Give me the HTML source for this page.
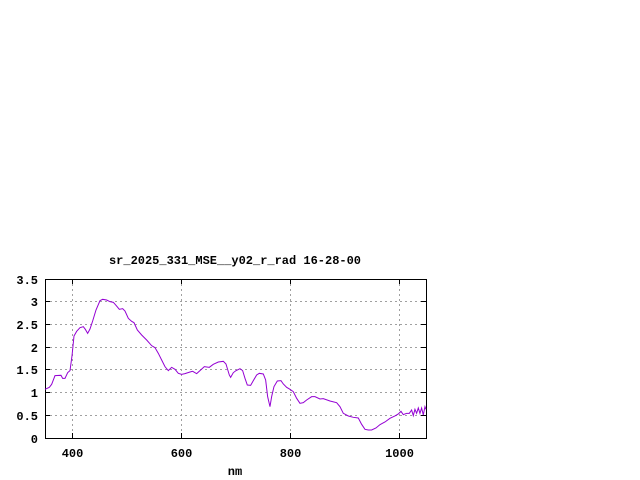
<!DOCTYPE html>
<html><head><style>body{margin:0;background:#fff}svg{display:block}</style></head><body>
<svg width="640" height="480" xmlns="http://www.w3.org/2000/svg" font-family="'Liberation Mono',monospace" font-size="12" font-weight="bold">
<rect width="640" height="480" fill="#fff"/>
<g stroke="#a0a0a0" stroke-dasharray="2,3" stroke-width="1">
<line x1="45" y1="415.5" x2="426" y2="415.5"/><line x1="45" y1="392.5" x2="426" y2="392.5"/><line x1="45" y1="369.5" x2="426" y2="369.5"/><line x1="45" y1="347.5" x2="426" y2="347.5"/><line x1="45" y1="324.5" x2="426" y2="324.5"/><line x1="45" y1="301.5" x2="426" y2="301.5"/>
<line x1="72.5" y1="279" x2="72.5" y2="438"/><line x1="181.5" y1="279" x2="181.5" y2="438"/><line x1="290.5" y1="279" x2="290.5" y2="438"/><line x1="399.5" y1="279" x2="399.5" y2="438"/>
</g>
<rect x="45.5" y="279.5" width="381" height="159" fill="none" stroke="#000"/>
<g stroke="#000">
<path d="M45 415.5h5M45 392.5h5M45 369.5h5M45 347.5h5M45 324.5h5M45 301.5h5M426 415.5h-5M426 392.5h-5M426 369.5h-5M426 347.5h-5M426 324.5h-5M426 301.5h-5M72.5 438v-5M181.5 438v-5M290.5 438v-5M399.5 438v-5M72.5 279v5M181.5 279v5M290.5 279v5M399.5 279v5"/>
</g>
<g text-anchor="end">
<text x="38" y="443">0</text><text x="38" y="420">0.5</text><text x="38" y="397">1</text><text x="38" y="374">1.5</text><text x="38" y="352">2</text><text x="38" y="329">2.5</text><text x="38" y="306">3</text><text x="38" y="284">3.5</text>
</g>
<g text-anchor="middle">
<text x="72.5" y="457">400</text><text x="181.5" y="457">600</text><text x="290.5" y="457">800</text><text x="399.5" y="457">1000</text>
<text x="235" y="475">nm</text>
<text x="235" y="264">sr_2025_331_MSE__y02_r_rad 16-28-00</text>
</g>
<g transform="translate(0,250) scale(0.3333)">
<polyline fill="none" stroke="#9400d3" stroke-width="3" points="135,418 148,412 155,403 165,377 183,376 188,385 195,385 203,368 210,362 216,318 222,258 230,244 240,233 250,230 256,238 263,250 270,237 278,213 288,180 300,152 308,148 320,150 330,155 340,157 348,166 358,178 368,176 375,183 385,205 395,214 402,218 412,240 425,255 440,270 455,287 465,293 475,310 485,330 495,350 505,362 515,352 525,358 535,370 545,373 555,371 570,366 578,364 590,371 600,362 613,350 628,352 640,343 655,336 670,334 678,342 688,375 692,382 700,368 708,362 720,356 728,362 735,385 742,405 752,406 760,392 770,375 778,370 790,372 797,390 803,440 810,470 815,440 822,410 832,393 843,392 850,402 860,412 870,418 880,425 890,445 900,460 910,458 920,450 935,440 945,440 960,447 970,446 990,453 1010,458 1020,470 1030,490 1045,498 1060,502 1075,504 1085,523 1095,538 1105,540 1115,540 1128,534 1140,524 1155,516 1170,505 1185,498 1195,492 1203,484 1210,494 1220,490 1228,490 1235,480 1240,497 1245,478 1250,490 1255,474 1260,490 1265,474 1270,495 1275,470 1278,478"/>
</g>
</svg>
</body></html>
